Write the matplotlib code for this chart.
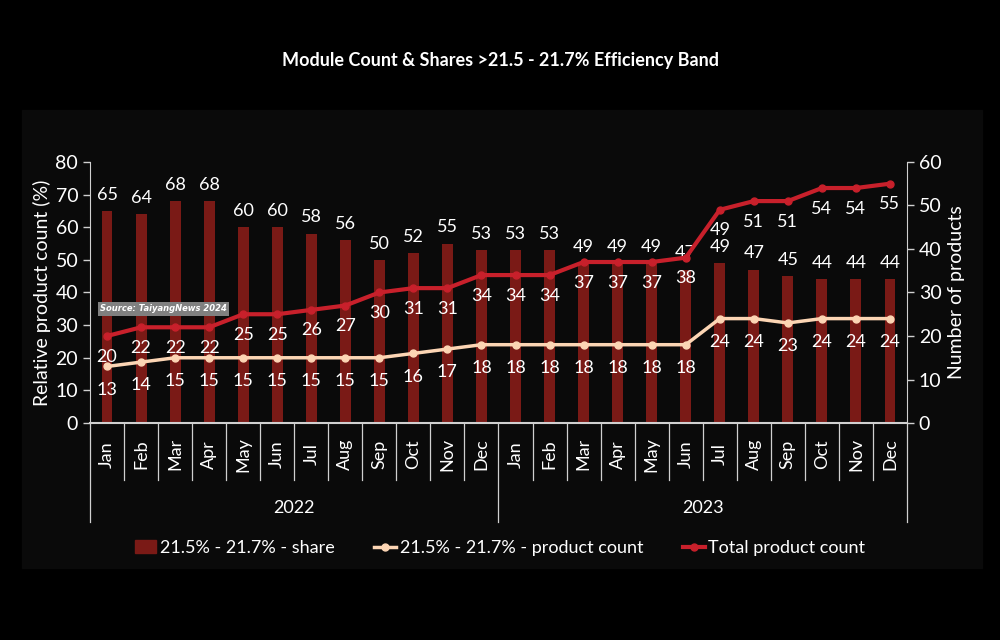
import matplotlib.pyplot as plt
import matplotlib.patches as mpatches
from matplotlib.lines import Line2D

plt.rcParams['font.family'] = ['Lato', 'DejaVu Sans']

months = ['Jan', 'Feb', 'Mar', 'Apr', 'May', 'Jun', 'Jul', 'Aug', 'Sep', 'Oct', 'Nov', 'Dec'] * 2
years = ['2022', '2023']
share = [65, 64, 68, 68, 60, 60, 58, 56, 50, 52, 55, 53,
         53, 53, 49, 49, 49, 47, 49, 47, 45, 44, 44, 44]
band_count = [13, 14, 15, 15, 15, 15, 15, 15, 15, 16, 17, 18,
              18, 18, 18, 18, 18, 18, 24, 24, 23, 24, 24, 24]
total_count = [20, 22, 22, 22, 25, 25, 26, 27, 30, 31, 31, 34,
               34, 34, 37, 37, 37, 38, 49, 51, 51, 54, 54, 55]

bar_c = '#7a1a16'
total_c = '#c8202b'
band_c = '#fcd5b4'
axis_c = '#d0d0d0'

fig = plt.figure(figsize=(10, 6.4), dpi=100, facecolor='black')
fig.patches.append(mpatches.Rectangle((0.022, 1 - 568 / 640), 0.96, 458 / 640,
                                      transform=fig.transFigure, color='#0a0a0a', zorder=-10))

ax = fig.add_axes([0.09, 0.339, 0.817, 0.408])
ax.set_facecolor('none')
ax2 = ax.twinx()
ax2.set_facecolor('none')

x = list(range(len(share)))
ax.bar(x, share, width=0.32, color=bar_c, zorder=2)
for i, v in enumerate(share):
    ax.annotate(str(v), (i, v), xytext=(0, 6), textcoords='offset points',
                ha='center', va='bottom', color='white', fontsize=13)

ax2.plot(x, band_count, color=band_c, lw=2.5, marker='o', ms=5, zorder=3)
ax2.plot(x, total_count, color=total_c, lw=3, marker='o', ms=5, zorder=3)
for i in x:
    ax2.annotate(str(band_count[i]), (i, band_count[i]), xytext=(0, -11),
                 textcoords='offset points', ha='center', va='top', color='white', fontsize=13)
    ax2.annotate(str(total_count[i]), (i, total_count[i]), xytext=(0, -9),
                 textcoords='offset points', ha='center', va='top', color='white', fontsize=13)

ax.set_xlim(-0.5, len(share) - 0.5)
ax.set_ylim(0, 80)
ax2.set_ylim(0, 60)
ax.set_yticks(range(0, 81, 10))
ax2.set_yticks(range(0, 61, 10))
ax.set_xticks([])

for a in (ax, ax2):
    for s in a.spines.values():
        s.set_visible(False)
    a.tick_params(axis='y', colors=axis_c, labelcolor='white', labelsize=14, length=5, width=1)
ax.spines['left'].set_visible(True)
ax.spines['left'].set_color(axis_c)
ax2.spines['right'].set_visible(True)
ax2.spines['right'].set_color(axis_c)
ax.spines['bottom'].set_visible(True)
ax.spines['bottom'].set_color(axis_c)
ax.spines['bottom'].set_linewidth(1.5)

ax.set_ylabel('Relative product count (%)', color='white', fontsize=14, labelpad=3)
ax2.set_ylabel('Number of products', color='white', fontsize=14, labelpad=5)

trans = ax.get_xaxis_transform()
for i in range(len(share) + 1):
    bottom = -0.38 if i % 12 == 0 else -0.22
    ax.plot([i - 0.5, i - 0.5], [0, bottom], transform=trans, color=axis_c,
            lw=0.9, clip_on=False)
for i, m in enumerate(months):
    ax.text(i, -0.12, m, transform=trans, rotation=90, ha='center', va='center',
            color='white', fontsize=13)
for j, y in enumerate(years):
    ax.text(j * 12 + 5.5, -0.325, y, transform=trans, ha='center', va='center',
            color='white', fontsize=13)

ax.text(0.012, 0.437, 'Source: TaiyangNews 2024', transform=ax.transAxes,
        fontsize=6, fontstyle='italic', fontweight='bold', color='white',
        family='DejaVu Sans', va='center', zorder=5,
        bbox=dict(facecolor='#808080', edgecolor='none', pad=1.5))

fig.text(0.5, 0.906, 'Module Count & Shares >21.5 - 21.7% Efficiency Band',
         ha='center', va='center', color='white', fontsize=13, fontweight='bold')

handles = [mpatches.Patch(color=bar_c),
           Line2D([], [], color=band_c, lw=2.5, marker='o', ms=5),
           Line2D([], [], color=total_c, lw=3, marker='o', ms=5)]
labels = ['21.5% - 21.7% - share', '21.5% - 21.7% - product count', 'Total product count']
fig.legend(handles, labels, loc='center', bbox_to_anchor=(0.5, 0.144), ncol=3,
           frameon=False, labelcolor='white', fontsize=13, handlelength=1.2,
           handletextpad=0.2, columnspacing=2.2)

fig.savefig('out.png', facecolor=fig.get_facecolor())
